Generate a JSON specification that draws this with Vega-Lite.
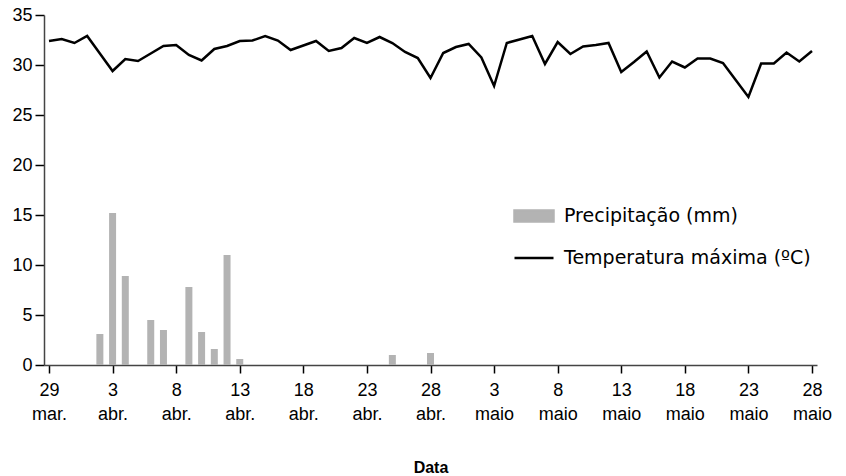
{
  "$schema": "https://vega.github.io/schema/vega-lite/v6.json",
  "width": 773,
  "height": 350,
  "autosize": "none",
  "padding": {"left": 44, "top": 15, "right": 29, "bottom": 111},
  "background": "white",
  "config": {"view": {"stroke": null}, "font": "Liberation Sans"},
  "data": {"values": [
    {"data": "2024-03-29", "temp": 32.4},
    {"data": "2024-03-30", "temp": 32.6},
    {"data": "2024-03-31", "temp": 32.2},
    {"data": "2024-04-01", "temp": 32.9},
    {"data": "2024-04-02", "temp": 31.15, "precip": 3.1},
    {"data": "2024-04-03", "temp": 29.4, "precip": 15.2},
    {"data": "2024-04-04", "temp": 30.6, "precip": 8.9},
    {"data": "2024-04-05", "temp": 30.4},
    {"data": "2024-04-06", "temp": 31.15, "precip": 4.5},
    {"data": "2024-04-07", "temp": 31.9, "precip": 3.5},
    {"data": "2024-04-08", "temp": 32.0},
    {"data": "2024-04-09", "temp": 31.0, "precip": 7.8},
    {"data": "2024-04-10", "temp": 30.45, "precip": 3.3},
    {"data": "2024-04-11", "temp": 31.6, "precip": 1.6},
    {"data": "2024-04-12", "temp": 31.9, "precip": 11.0},
    {"data": "2024-04-13", "temp": 32.4, "precip": 0.6},
    {"data": "2024-04-14", "temp": 32.45},
    {"data": "2024-04-15", "temp": 32.9},
    {"data": "2024-04-16", "temp": 32.45},
    {"data": "2024-04-17", "temp": 31.5},
    {"data": "2024-04-18", "temp": 31.95},
    {"data": "2024-04-19", "temp": 32.4},
    {"data": "2024-04-20", "temp": 31.4},
    {"data": "2024-04-21", "temp": 31.7},
    {"data": "2024-04-22", "temp": 32.7},
    {"data": "2024-04-23", "temp": 32.2},
    {"data": "2024-04-24", "temp": 32.8},
    {"data": "2024-04-25", "temp": 32.2, "precip": 1.0},
    {"data": "2024-04-26", "temp": 31.3},
    {"data": "2024-04-27", "temp": 30.7},
    {"data": "2024-04-28", "temp": 28.7, "precip": 1.2},
    {"data": "2024-04-29", "temp": 31.2},
    {"data": "2024-04-30", "temp": 31.8},
    {"data": "2024-05-01", "temp": 32.1},
    {"data": "2024-05-02", "temp": 30.75},
    {"data": "2024-05-03", "temp": 27.9},
    {"data": "2024-05-04", "temp": 32.2},
    {"data": "2024-05-05", "temp": 32.55},
    {"data": "2024-05-06", "temp": 32.9},
    {"data": "2024-05-07", "temp": 30.1},
    {"data": "2024-05-08", "temp": 32.3},
    {"data": "2024-05-09", "temp": 31.1},
    {"data": "2024-05-10", "temp": 31.85},
    {"data": "2024-05-11", "temp": 32.0},
    {"data": "2024-05-12", "temp": 32.2},
    {"data": "2024-05-13", "temp": 29.3},
    {"data": "2024-05-14", "temp": 30.3},
    {"data": "2024-05-15", "temp": 31.35},
    {"data": "2024-05-16", "temp": 28.75},
    {"data": "2024-05-17", "temp": 30.35},
    {"data": "2024-05-18", "temp": 29.75},
    {"data": "2024-05-19", "temp": 30.65},
    {"data": "2024-05-20", "temp": 30.65},
    {"data": "2024-05-21", "temp": 30.2},
    {"data": "2024-05-22", "temp": 28.5},
    {"data": "2024-05-23", "temp": 26.8},
    {"data": "2024-05-24", "temp": 30.15},
    {"data": "2024-05-25", "temp": 30.15},
    {"data": "2024-05-26", "temp": 31.25},
    {"data": "2024-05-27", "temp": 30.35},
    {"data": "2024-05-28", "temp": 31.4}
  ]},
  "encoding": {
    "x": {
      "field": "data",
      "type": "temporal",
      "scale": {
        "type": "utc",
        "domain": [
          {"year": 2024, "month": 3, "date": 29, "utc": true},
          {"year": 2024, "month": 5, "date": 28, "utc": true}
        ]
      },
      "axis": {
        "values": [
          {"year": 2024, "month": 3, "date": 29, "utc": true},
          {"year": 2024, "month": 4, "date": 3, "utc": true},
          {"year": 2024, "month": 4, "date": 8, "utc": true},
          {"year": 2024, "month": 4, "date": 13, "utc": true},
          {"year": 2024, "month": 4, "date": 18, "utc": true},
          {"year": 2024, "month": 4, "date": 23, "utc": true},
          {"year": 2024, "month": 4, "date": 28, "utc": true},
          {"year": 2024, "month": 5, "date": 3, "utc": true},
          {"year": 2024, "month": 5, "date": 8, "utc": true},
          {"year": 2024, "month": 5, "date": 13, "utc": true},
          {"year": 2024, "month": 5, "date": 18, "utc": true},
          {"year": 2024, "month": 5, "date": 23, "utc": true},
          {"year": 2024, "month": 5, "date": 28, "utc": true}
        ],
        "labelExpr": "['' + utcdate(datum.value), ['jan.','fev.','mar.','abr.','maio','jun.'][utcmonth(datum.value)]]",
        "labelFontSize": 18,
        "labelLineHeight": 24,
        "labelPadding": 8,
        "labelColor": "black",
        "labelFlush": false,
        "labelOverlap": false,
        "labelBound": false,
        "tickSize": 8,
        "tickColor": "black",
        "tickWidth": 1.5,
        "domainColor": "#444444",
        "domainWidth": 1.5,
        "grid": false,
        "title": "Data",
        "titleFontSize": 16,
        "titleFontWeight": "bold",
        "titleColor": "black",
        "titlePadding": 36
      }
    }
  },
  "layer": [
    {
      "mark": {"type": "bar", "width": 7},
      "encoding": {
        "y": {
          "field": "precip",
          "type": "quantitative",
          "scale": {"domain": [0, 35]},
          "axis": {
            "title": null,
            "values": [0, 5, 10, 15, 20, 25, 30, 35],
            "labelFontSize": 18,
            "labelColor": "black",
            "labelPadding": 3,
            "tickSize": 9,
            "tickColor": "black",
            "tickWidth": 1.5,
            "domainColor": "#444444",
            "domainWidth": 1.5,
            "grid": false
          }
        },
        "color": {
          "datum": "Precipitação (mm)",
          "scale": {
            "domain": ["Precipitação (mm)", "Temperatura máxima (ºC)"],
            "range": ["#b3b3b3", "#000000"]
          },
          "legend": {
            "orient": "none",
            "legendX": 469,
            "legendY": 180,
            "title": null,
            "labelFont": "DejaVu Sans",
            "labelFontSize": 19,
            "labelColor": "black",
            "labelLimit": 400,
            "symbolSize": 1521,
            "rowPadding": 10,
            "labelOffset": 9,
            "encode": {
              "symbols": {
                "update": {
                  "shape": {"signal": "datum.value == 'Precipitação (mm)' ? 'M-1,-0.28H1V0.28H-1Z' : 'stroke'"},
                  "fill": {"signal": "datum.value == 'Precipitação (mm)' ? '#b3b3b3' : 'transparent'"},
                  "stroke": {"signal": "datum.value == 'Precipitação (mm)' ? 'transparent' : 'black'"},
                  "strokeWidth": {"value": 2.5},
                  "opacity": {"value": 1}
                }
              }
            }
          }
        }
      }
    },
    {
      "mark": {"type": "line", "strokeWidth": 2.5},
      "encoding": {
        "y": {"field": "temp", "type": "quantitative", "axis": {"title": null}},
        "color": {"datum": "Temperatura máxima (ºC)"}
      }
    }
  ]
}
